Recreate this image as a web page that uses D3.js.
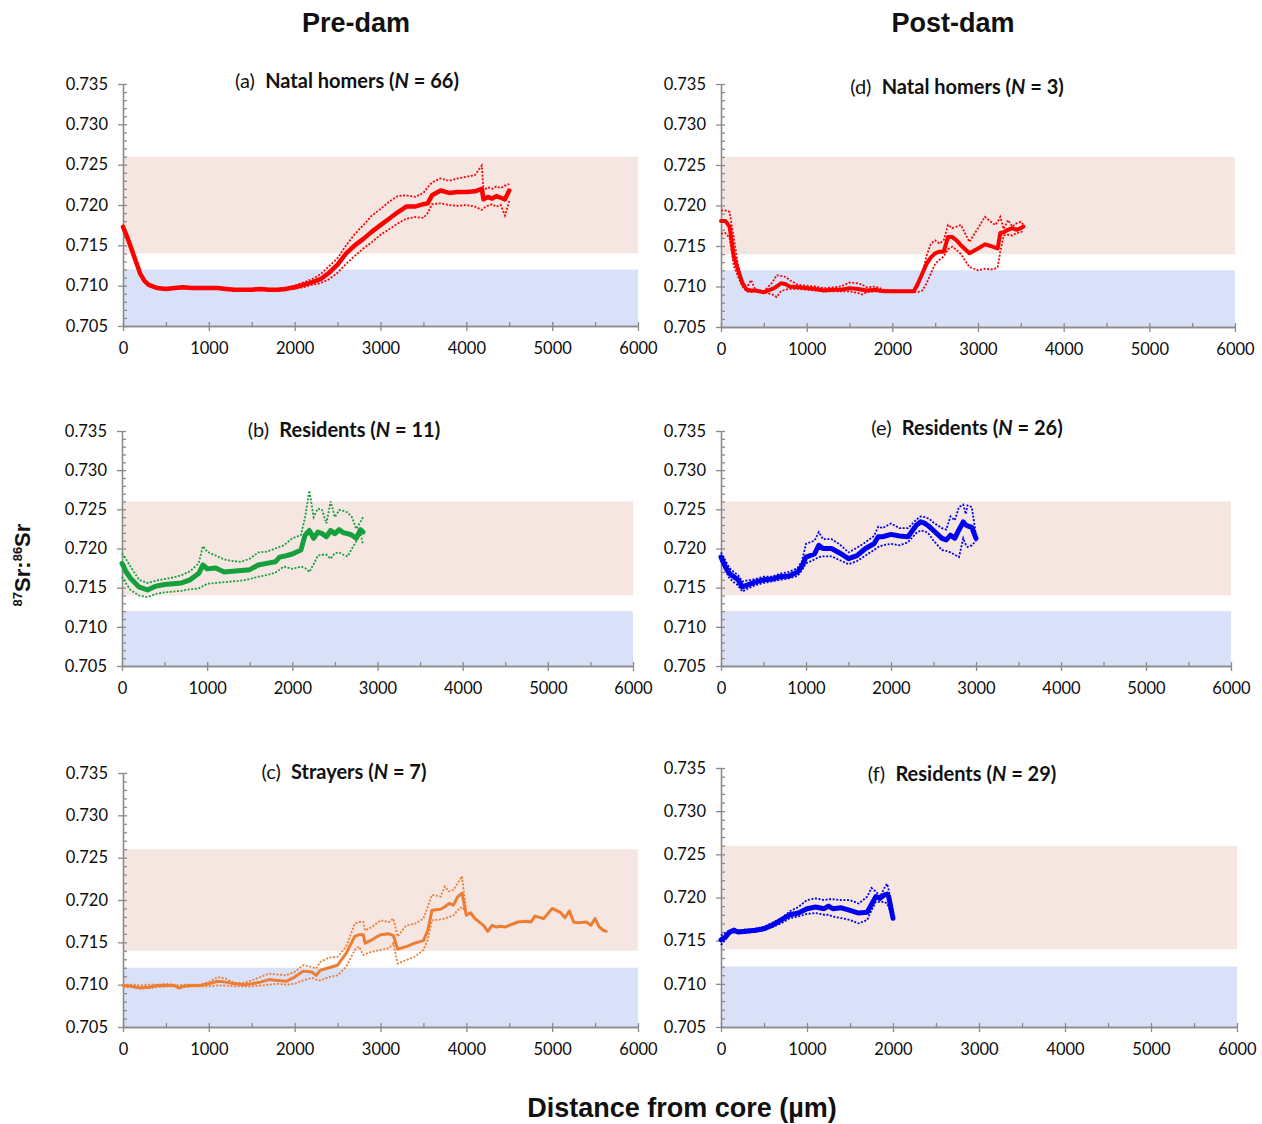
<!DOCTYPE html>
<html>
<head>
<meta charset="utf-8">
<script src="https://cdn.jsdelivr.net/npm/d3@7"></script>
<style>
  body { margin: 0; background: #ffffff; }
  svg text { font-family: Lato, "Open Sans", sans-serif; }
  .axis path, .axis line { stroke: #8a8a8a; stroke-width: 1.3; }
  .axis text { font-size: 16.5px; fill: #0d0d0d; }
</style>
</head>
<body>
<svg id="chart" width="1262" height="1124"></svg>
<script>
// Each row: [distance from core (µm), mean 87Sr:86Sr, upper CI, lower CI]

// (a) Pre-dam natal homers
const panelA = [
  [0, 0.7173, 0.7175, 0.7171], [50, 0.7160, 0.7162, 0.7158], [100, 0.7145, 0.7147, 0.7143],
  [150, 0.7130, 0.7132, 0.7128], [200, 0.7115, 0.7117, 0.7113], [250, 0.7106, 0.7107, 0.7105],
  [300, 0.7101, 0.7102, 0.7100], [400, 0.7097, 0.7098, 0.7096], [500, 0.7096, 0.7097, 0.7095],
  [600, 0.7097, 0.7098, 0.7096], [700, 0.7098, 0.7099, 0.7097], [800, 0.7097, 0.7098, 0.7096],
  [900, 0.7097, 0.7098, 0.7096], [1000, 0.7097, 0.7098, 0.7096], [1100, 0.7097, 0.7098, 0.7096],
  [1200, 0.7096, 0.7097, 0.7095], [1300, 0.7095, 0.7096, 0.7094], [1400, 0.7095, 0.7096, 0.7094],
  [1500, 0.7095, 0.7096, 0.7094], [1600, 0.7096, 0.7097, 0.7095], [1700, 0.7095, 0.7096, 0.7094],
  [1800, 0.7095, 0.7096, 0.7094], [1900, 0.7096, 0.7098, 0.7095], [2000, 0.7098, 0.7100, 0.7096],
  [2100, 0.7101, 0.7104, 0.7098], [2200, 0.7104, 0.7108, 0.7101], [2300, 0.7108, 0.7114, 0.7103],
  [2400, 0.7116, 0.7124, 0.7108], [2500, 0.7126, 0.7134, 0.7116], [2600, 0.7140, 0.7150, 0.7127],
  [2700, 0.7150, 0.7164, 0.7137], [2800, 0.7158, 0.7175, 0.7146], [2900, 0.7167, 0.7187, 0.7154],
  [3000, 0.7175, 0.7195, 0.7163], [3100, 0.7183, 0.7204, 0.7170], [3200, 0.7191, 0.7211, 0.7177],
  [3300, 0.7198, 0.7212, 0.7183], [3400, 0.7198, 0.7210, 0.7185], [3500, 0.7201, 0.7215, 0.7184],
  [3550, 0.7202, 0.7222, 0.7190], [3600, 0.7212, 0.7228, 0.7201], [3700, 0.7218, 0.7233, 0.7202],
  [3800, 0.7215, 0.7230, 0.7200], [3900, 0.7216, 0.7233, 0.7199], [4000, 0.7216, 0.7235, 0.7200],
  [4100, 0.7217, 0.7237, 0.7198], [4180, 0.7220, 0.7249, 0.7194], [4200, 0.7207, 0.7218, 0.7196],
  [4250, 0.7210, 0.7222, 0.7199], [4300, 0.7208, 0.7220, 0.7201], [4350, 0.7211, 0.7223, 0.7198],
  [4400, 0.7209, 0.7221, 0.7200], [4450, 0.7207, 0.7224, 0.7187], [4500, 0.7218, 0.7226, 0.7205]
];

// (b) Pre-dam residents
const panelB = [
  [0, 0.7181, 0.7194, 0.7164], [50, 0.7170, 0.7186, 0.7155], [100, 0.7162, 0.7177, 0.7147],
  [200, 0.7151, 0.7160, 0.7140], [300, 0.7147, 0.7156, 0.7138], [400, 0.7152, 0.7159, 0.7142],
  [500, 0.7154, 0.7161, 0.7144], [600, 0.7155, 0.7163, 0.7145], [700, 0.7156, 0.7166, 0.7146],
  [800, 0.7160, 0.7171, 0.7148], [900, 0.7168, 0.7181, 0.7149], [950, 0.7179, 0.7203, 0.7152],
  [1000, 0.7174, 0.7196, 0.7155], [1100, 0.7175, 0.7191, 0.7156], [1200, 0.7170, 0.7186, 0.7157],
  [1300, 0.7171, 0.7184, 0.7158], [1400, 0.7172, 0.7183, 0.7159], [1500, 0.7173, 0.7187, 0.7161],
  [1600, 0.7179, 0.7195, 0.7164], [1700, 0.7181, 0.7196, 0.7166], [1800, 0.7183, 0.7200, 0.7169],
  [1850, 0.7189, 0.7202, 0.7173], [1900, 0.7190, 0.7204, 0.7177], [2000, 0.7193, 0.7213, 0.7174],
  [2100, 0.7198, 0.7217, 0.7177], [2150, 0.7217, 0.7240, 0.7175], [2200, 0.7223, 0.7274, 0.7170],
  [2250, 0.7213, 0.7240, 0.7180], [2300, 0.7221, 0.7251, 0.7191], [2350, 0.7219, 0.7249, 0.7192],
  [2400, 0.7215, 0.7232, 0.7192], [2450, 0.7223, 0.7260, 0.7187], [2500, 0.7219, 0.7240, 0.7194],
  [2550, 0.7224, 0.7249, 0.7195], [2600, 0.7220, 0.7248, 0.7192], [2650, 0.7219, 0.7246, 0.7190],
  [2700, 0.7217, 0.7240, 0.7200], [2750, 0.7213, 0.7225, 0.7209], [2800, 0.7224, 0.7234, 0.7219],
  [2830, 0.7221, 0.7240, 0.7205]
];

// (c) Pre-dam strayers (confidence band ends near 4000 µm)
const panelC = [
  [0, 0.7099, 0.7100, 0.7097], [100, 0.7098, 0.7100, 0.7097], [200, 0.7096, 0.7099, 0.7096],
  [300, 0.7097, 0.7100, 0.7096], [400, 0.7099, 0.7100, 0.7097], [500, 0.7099, 0.7101, 0.7098],
  [600, 0.7099, 0.7100, 0.7098], [650, 0.7096, 0.7099, 0.7096], [700, 0.7098, 0.7100, 0.7097],
  [800, 0.7099, 0.7100, 0.7098], [900, 0.7099, 0.7100, 0.7098], [1000, 0.7101, 0.7103, 0.7098],
  [1100, 0.7104, 0.7109, 0.7099], [1200, 0.7103, 0.7107, 0.7099], [1300, 0.7101, 0.7102, 0.7098],
  [1400, 0.7100, 0.7102, 0.7098], [1500, 0.7101, 0.7105, 0.7098], [1600, 0.7103, 0.7109, 0.7099],
  [1700, 0.7106, 0.7113, 0.7100], [1800, 0.7105, 0.7112, 0.7101], [1900, 0.7104, 0.7111, 0.7100],
  [2000, 0.7109, 0.7115, 0.7101], [2100, 0.7116, 0.7123, 0.7105], [2200, 0.7115, 0.7121, 0.7108],
  [2250, 0.7111, 0.7119, 0.7106], [2300, 0.7117, 0.7127, 0.7105], [2400, 0.7120, 0.7132, 0.7109],
  [2500, 0.7123, 0.7133, 0.7111], [2600, 0.7137, 0.7145, 0.7121], [2700, 0.7157, 0.7172, 0.7141],
  [2750, 0.7159, 0.7174, 0.7145], [2800, 0.7159, 0.7174, 0.7135], [2820, 0.7149, 0.7164, 0.7136],
  [2900, 0.7153, 0.7168, 0.7139], [3000, 0.7159, 0.7176, 0.7141], [3100, 0.7160, 0.7174, 0.7143],
  [3150, 0.7158, 0.7178, 0.7149], [3200, 0.7142, 0.7157, 0.7125], [3300, 0.7145, 0.7170, 0.7129],
  [3400, 0.7149, 0.7172, 0.7133], [3500, 0.7152, 0.7178, 0.7141], [3550, 0.7164, 0.7192, 0.7153],
  [3600, 0.7188, 0.7206, 0.7176], [3700, 0.7189, 0.7204, 0.7177], [3750, 0.7192, 0.7216, 0.7178],
  [3800, 0.7196, 0.7210, 0.7180], [3850, 0.7194, 0.7212, 0.7182], [3900, 0.7204, 0.7220, 0.7188],
  [3950, 0.7208, 0.7228, 0.7192], [4000, 0.7182, 0.7184, 0.7184], [4050, 0.7185, null, null],
  [4100, 0.7178, null, null], [4200, 0.7170, null, null], [4250, 0.7163, null, null],
  [4300, 0.7170, null, null], [4350, 0.7168, null, null], [4400, 0.7169, null, null],
  [4450, 0.7168, null, null], [4500, 0.7170, null, null], [4600, 0.7174, null, null],
  [4700, 0.7175, null, null], [4750, 0.7174, null, null], [4800, 0.7181, null, null],
  [4900, 0.7178, null, null], [5000, 0.7190, null, null], [5100, 0.7185, null, null],
  [5150, 0.7179, null, null], [5200, 0.7187, null, null], [5250, 0.7174, null, null],
  [5300, 0.7173, null, null], [5400, 0.7174, null, null], [5450, 0.7170, null, null],
  [5500, 0.7178, null, null], [5550, 0.7168, null, null], [5600, 0.7164, null, null],
  [5630, 0.7163, null, null]
];

// (d) Post-dam natal homers
const panelD = [
  [0, 0.7181, 0.7194, 0.7165], [50, 0.7181, 0.7194, 0.7166], [100, 0.7174, 0.7192, 0.7160],
  [150, 0.7137, 0.7160, 0.7125], [200, 0.7120, 0.7125, 0.7112], [250, 0.7104, 0.7108, 0.7100],
  [300, 0.7096, 0.7098, 0.7094], [350, 0.7095, 0.7108, 0.7093], [400, 0.7095, 0.7096, 0.7094],
  [500, 0.7093, 0.7094, 0.7093], [600, 0.7097, 0.7105, 0.7090], [650, 0.7100, 0.7114, 0.7087],
  [700, 0.7104, 0.7113, 0.7094], [750, 0.7103, 0.7112, 0.7096], [800, 0.7100, 0.7108, 0.7097],
  [900, 0.7099, 0.7102, 0.7097], [1000, 0.7098, 0.7101, 0.7096], [1100, 0.7097, 0.7100, 0.7095],
  [1200, 0.7095, 0.7098, 0.7094], [1300, 0.7096, 0.7099, 0.7094], [1400, 0.7096, 0.7100, 0.7094],
  [1500, 0.7098, 0.7105, 0.7094], [1600, 0.7097, 0.7104, 0.7092], [1650, 0.7096, 0.7102, 0.7090],
  [1700, 0.7095, 0.7099, 0.7093], [1800, 0.7096, 0.7100, 0.7094], [1900, 0.7094, 0.7096, 0.7093],
  [2000, 0.7094, 0.7095, 0.7093], [2100, 0.7094, 0.7095, 0.7093], [2200, 0.7094, 0.7095, 0.7093],
  [2250, 0.7094, 0.7095, 0.7093], [2300, 0.7104, 0.7100, 0.7093], [2350, 0.7116, 0.7116, 0.7095],
  [2400, 0.7128, 0.7138, 0.7104], [2450, 0.7136, 0.7153, 0.7116], [2500, 0.7141, 0.7157, 0.7128],
  [2550, 0.7143, 0.7153, 0.7133], [2600, 0.7143, 0.7157, 0.7137], [2650, 0.7161, 0.7176, 0.7146],
  [2700, 0.7161, 0.7172, 0.7149], [2750, 0.7157, 0.7174, 0.7145], [2800, 0.7151, 0.7176, 0.7140],
  [2900, 0.7141, 0.7155, 0.7124], [3000, 0.7147, 0.7172, 0.7120], [3080, 0.7152, 0.7186, 0.7122],
  [3150, 0.7150, 0.7180, 0.7121], [3200, 0.7148, 0.7176, 0.7122], [3230, 0.7147, 0.7180, 0.7124],
  [3260, 0.7166, 0.7186, 0.7143], [3300, 0.7167, 0.7171, 0.7163], [3350, 0.7170, 0.7182, 0.7164],
  [3400, 0.7172, 0.7174, 0.7163], [3450, 0.7170, 0.7178, 0.7166], [3500, 0.7172, 0.7180, 0.7167],
  [3530, 0.7174, 0.7176, 0.7169]
];

// (e) Post-dam residents (N = 26)
const panelE = [
  [0, 0.7189, 0.7195, 0.7185], [50, 0.7177, 0.7185, 0.7172], [100, 0.7168, 0.7175, 0.7162],
  [150, 0.7164, 0.7170, 0.7157], [200, 0.7160, 0.7166, 0.7153], [250, 0.7151, 0.7158, 0.7145],
  [300, 0.7153, 0.7159, 0.7148], [400, 0.7157, 0.7161, 0.7153], [500, 0.7160, 0.7164, 0.7156],
  [600, 0.7161, 0.7164, 0.7158], [700, 0.7164, 0.7168, 0.7160], [800, 0.7165, 0.7170, 0.7162],
  [900, 0.7170, 0.7175, 0.7165], [950, 0.7177, 0.7183, 0.7172], [1000, 0.7189, 0.7206, 0.7181],
  [1100, 0.7193, 0.7210, 0.7186], [1150, 0.7204, 0.7221, 0.7189], [1200, 0.7200, 0.7212, 0.7190],
  [1300, 0.7200, 0.7212, 0.7190], [1400, 0.7194, 0.7205, 0.7185], [1500, 0.7187, 0.7195, 0.7180],
  [1600, 0.7191, 0.7201, 0.7184], [1700, 0.7200, 0.7208, 0.7191], [1800, 0.7206, 0.7216, 0.7198],
  [1850, 0.7215, 0.7228, 0.7202], [1900, 0.7215, 0.7226, 0.7204], [2000, 0.7218, 0.7232, 0.7206],
  [2100, 0.7216, 0.7226, 0.7204], [2200, 0.7215, 0.7226, 0.7208], [2300, 0.7230, 0.7237, 0.7220],
  [2350, 0.7234, 0.7241, 0.7223], [2400, 0.7232, 0.7240, 0.7222], [2450, 0.7228, 0.7238, 0.7218],
  [2500, 0.7223, 0.7233, 0.7210], [2600, 0.7213, 0.7226, 0.7198], [2650, 0.7211, 0.7224, 0.7197],
  [2700, 0.7217, 0.7241, 0.7195], [2750, 0.7213, 0.7236, 0.7192], [2800, 0.7224, 0.7253, 0.7189],
  [2850, 0.7234, 0.7256, 0.7213], [2880, 0.7230, 0.7244, 0.7205], [2900, 0.7229, 0.7255, 0.7202],
  [2950, 0.7227, 0.7253, 0.7204], [3000, 0.7213, 0.7217, 0.7210]
];

// (f) Post-dam residents (N = 29)
const panelF = [
  [0, 0.7151, 0.7156, 0.7145], [50, 0.7154, 0.7159, 0.7151], [100, 0.7160, 0.7162, 0.7158],
  [150, 0.7162, 0.7164, 0.7160], [200, 0.7160, 0.7162, 0.7159], [300, 0.7161, 0.7163, 0.7160],
  [400, 0.7162, 0.7164, 0.7160], [500, 0.7164, 0.7166, 0.7162], [600, 0.7168, 0.7171, 0.7166],
  [700, 0.7174, 0.7176, 0.7170], [800, 0.7180, 0.7184, 0.7176], [900, 0.7182, 0.7189, 0.7178],
  [1000, 0.7187, 0.7197, 0.7181], [1100, 0.7189, 0.7199, 0.7182], [1200, 0.7187, 0.7197, 0.7180],
  [1250, 0.7190, 0.7198, 0.7180], [1300, 0.7187, 0.7198, 0.7178], [1400, 0.7188, 0.7197, 0.7176],
  [1500, 0.7185, 0.7197, 0.7174], [1600, 0.7182, 0.7193, 0.7170], [1700, 0.7183, 0.7201, 0.7174],
  [1750, 0.7192, 0.7211, 0.7185], [1800, 0.7201, 0.7207, 0.7195], [1850, 0.7199, 0.7201, 0.7195],
  [1900, 0.7203, 0.7211, 0.7195], [1930, 0.7204, 0.7216, 0.7193], [1950, 0.7201, 0.7209, 0.7189],
  [2000, 0.7176, 0.7182, 0.7174]
];

// Reference ranges of 87Sr:86Sr (upper: pink band, lower: blue band)
const bandRanges = [[0.714, 0.726], [0.705, 0.712]];
const yTicks = [0.705, 0.710, 0.715, 0.720, 0.725, 0.730, 0.735];
const xTicks = [0, 1000, 2000, 3000, 4000, 5000, 6000];
const panelLetters = ["(a)", "(b)", "(c)", "(d)", "(e)", "(f)"];
const groupNames = ["Natal homers", "Residents", "Strayers", "Natal homers", "Residents", "Residents"];
const sampleSizes = [66, 11, 7, 3, 26, 29];
const columnTitles = ["Pre-dam", "Post-dam"];

const panelData = [panelA, panelB, panelC, panelD, panelE, panelF];

// Placement and styling of each small chart
const layout = [
  { left: 123, right: 638, top: 84,  bottom: 326,  titleX: 347, titleY: 88,  color: "#ff0000", meanWidth: 4.5 },
  { left: 122, right: 633, top: 431, bottom: 666,  titleX: 344, titleY: 437, color: "#14a03c", meanWidth: 5 },
  { left: 123, right: 638, top: 773, bottom: 1027, titleX: 344, titleY: 779, color: "#ed7d31", meanWidth: 3 },
  { left: 721, right: 1235, top: 84,  bottom: 327,  titleX: 957, titleY: 94,  color: "#ff0000", meanWidth: 4 },
  { left: 721, right: 1231, top: 431, bottom: 666,  titleX: 967, titleY: 435, color: "#0000f0", meanWidth: 5 },
  { left: 721, right: 1237, top: 768, bottom: 1027, titleX: 962, titleY: 781, color: "#0000f0", meanWidth: 5 }
];
const bandColors = ["#f5e6e2", "#d9e1f8"];

const svg = d3.select("#chart");

panelData.forEach((rows, i) => {
  const L = layout[i];
  const x = d3.scaleLinear().domain([0, 6000]).range([L.left, L.right]);
  const y = d3.scaleLinear().domain([0.705, 0.735]).range([L.bottom, L.top]);
  const g = svg.append("g");

  // shaded reference bands
  g.selectAll("rect.band").data(bandRanges).enter().append("rect")
    .attr("class", "band")
    .attr("x", x(0)).attr("width", x(6000) - x(0))
    .attr("y", d => y(d[1])).attr("height", d => y(d[0]) - y(d[1]))
    .attr("fill", (d, j) => bandColors[j]);

  // axes: major ticks outside, minor ticks inside
  const yMinor = d3.range(0, 31).map(k => 0.705 + k * 0.001);
  g.append("g").attr("class", "axis").attr("transform", `translate(${x(0)},0)`)
    .call(d3.axisLeft(y).tickValues(yMinor).tickSize(-4).tickSizeOuter(0).tickFormat(""));
  g.append("g").attr("class", "axis").attr("transform", `translate(${x(0)},0)`)
    .call(d3.axisLeft(y).tickValues(yTicks).tickSize(5).tickSizeOuter(0).tickPadding(10)
      .tickFormat(d3.format(".3f")));
  const xMinor = d3.range(0, 6001, 500);
  g.append("g").attr("class", "axis").attr("transform", `translate(0,${y(0.705)})`)
    .call(d3.axisBottom(x).tickValues(xMinor).tickSize(-4).tickSizeOuter(0).tickFormat(""));
  g.append("g").attr("class", "axis").attr("transform", `translate(0,${y(0.705)})`)
    .call(d3.axisBottom(x).tickValues(xTicks).tickSize(5).tickSizeOuter(0).tickPadding(11)
      .tickFormat(d3.format("d")));

  // mean trace
  const lineFor = k => d3.line()
    .defined(d => d[k] != null)
    .x(d => x(d[0])).y(d => y(d[k]));
  g.append("path").datum(rows)
    .attr("d", lineFor(1))
    .attr("fill", "none").attr("stroke", L.color)
    .attr("stroke-width", L.meanWidth)
    .attr("stroke-linejoin", "round").attr("stroke-linecap", "round");

  // confidence limits (dotted)
  [2, 3].forEach(k => {
    g.append("path").datum(rows)
      .attr("d", lineFor(k))
      .attr("fill", "none").attr("stroke", L.color)
      .attr("stroke-width", 1.8)
      .attr("stroke-dasharray", "2,1.6");
  });

  // panel title
  const t = g.append("text")
    .attr("x", L.titleX).attr("y", L.titleY)
    .attr("text-anchor", "middle")
    .attr("font-size", 20).attr("fill", "#111")
    .attr("xml:space", "preserve");
  t.append("tspan").text(panelLetters[i] + "  ");
  t.append("tspan").attr("font-weight", 700).text(groupNames[i] + " (");
  t.append("tspan").attr("font-weight", 700).attr("font-style", "italic").text("N");
  t.append("tspan").attr("font-weight", 700).text(" = " + sampleSizes[i] + ")");
});

// column headings
svg.selectAll("text.col").data(columnTitles).enter().append("text")
  .attr("class", "col")
  .attr("x", (d, i) => [356, 953][i]).attr("y", 32)
  .attr("text-anchor", "middle")
  .style("font-family", "'Liberation Sans', Arial, sans-serif")
  .attr("font-weight", 700).attr("font-size", 27).attr("fill", "#111")
  .text(d => d);

// shared x-axis title
svg.append("text")
  .attr("x", 682).attr("y", 1117)
  .attr("text-anchor", "middle")
  .style("font-family", "'Liberation Sans', Arial, sans-serif")
  .attr("font-weight", 700).attr("font-size", 27).attr("fill", "#111")
  .text("Distance from core (µm)");

// shared y-axis title: 87Sr:86Sr
const yt = svg.append("text")
  .attr("transform", "translate(30,565) rotate(-90)")
  .attr("text-anchor", "middle")
  .style("font-family", "'Liberation Sans', Arial, sans-serif")
  .attr("font-weight", 700).attr("font-size", 22).attr("fill", "#111");
yt.append("tspan").attr("font-size", 13).attr("dy", -8).text("87");
yt.append("tspan").attr("dy", 8).text("Sr:");
yt.append("tspan").attr("font-size", 13).attr("dy", -8).text("86");
yt.append("tspan").attr("dy", 8).text("Sr");
</script>
</body>
</html>
